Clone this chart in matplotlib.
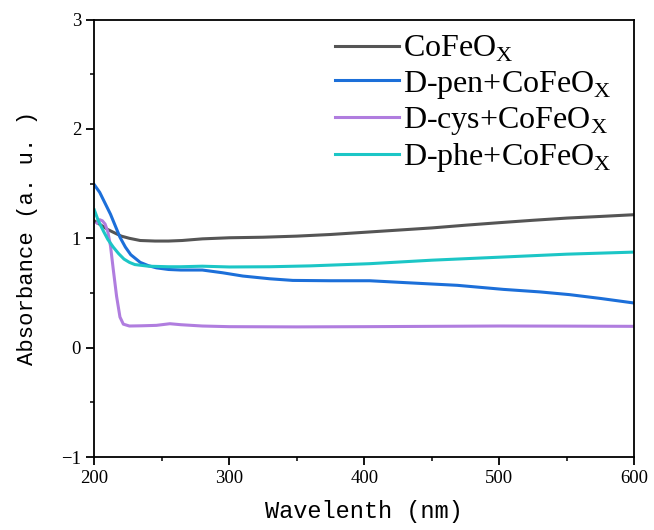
import matplotlib
matplotlib.use('Agg')
import matplotlib.pyplot as plt

# wavelength (nm) / absorbance
wl_co = [200, 205, 210, 215, 220, 226, 234, 245, 255, 265, 280, 300, 325, 350,
         375, 400, 425, 450, 475, 500, 525, 550, 575, 600]
abs_co = [1.16, 1.12, 1.08, 1.05, 1.02, 1.00, 0.98, 0.975, 0.975, 0.98, 0.995,
          1.005, 1.01, 1.02, 1.035, 1.055, 1.075, 1.095, 1.12, 1.143, 1.165,
          1.185, 1.20, 1.216]

wl_pen = [200, 204, 208, 212, 216, 219, 223, 227, 234, 240, 246, 255, 264, 280,
          295, 310, 330, 347, 375, 404, 430, 469, 503, 530, 552, 575, 600]
abs_pen = [1.49, 1.42, 1.32, 1.22, 1.10, 1.01, 0.92, 0.85, 0.78, 0.75, 0.73,
           0.715, 0.71, 0.71, 0.685, 0.655, 0.63, 0.615, 0.612, 0.612, 0.595,
           0.57, 0.533, 0.51, 0.485, 0.45, 0.408]

wl_cys = [202, 204, 206, 208, 210, 212, 214, 216.5, 219, 221.5, 226, 235, 246,
          256, 264, 280, 300, 350, 400, 450, 500, 550, 600]
abs_cys = [1.14, 1.17, 1.16, 1.13, 1.06, 0.93, 0.72, 0.47, 0.28, 0.215, 0.198,
           0.20, 0.204, 0.219, 0.21, 0.198, 0.192, 0.19, 0.192, 0.195, 0.198,
           0.197, 0.195]

wl_phe = [200, 203, 207, 210, 214, 218, 222, 226, 230, 240, 255, 264, 280, 300,
          330, 360, 404, 450, 503, 550, 600]
abs_phe = [1.26, 1.16, 1.06, 0.99, 0.92, 0.86, 0.81, 0.78, 0.76, 0.745, 0.74,
           0.74, 0.745, 0.738, 0.74, 0.748, 0.768, 0.80, 0.829, 0.855, 0.874]

labels = ['CoFeO$_\\mathregular{X}$', 'D-pen+CoFeO$_\\mathregular{X}$',
          'D-cys+CoFeO$_\\mathregular{X}$', 'D-phe+CoFeO$_\\mathregular{X}$']
colors = ['#555555', '#1c6fd9', '#b07ddf', '#1cc6c6']

fig = plt.figure(figsize=(6.54, 5.30), dpi=100)
ax = fig.add_axes([0.1442, 0.1377, 0.8257, 0.8253])

series = [(wl_co, abs_co), (wl_pen, abs_pen), (wl_cys, abs_cys), (wl_phe, abs_phe)]
for (x, y), lab, c in zip(series, labels, colors):
    ax.plot(x, y, color=c, lw=2.2, label=lab)

ax.set_xlim(200, 600)
ax.set_ylim(-1, 3)
ax.set_xticks([200, 300, 400, 500, 600])
ax.set_xticks([250, 350, 450, 550], minor=True)
ax.set_yticks([-1, 0, 1, 2, 3])
ax.set_yticks([-0.5, 0.5, 1.5, 2.5], minor=True)

for s in ax.spines.values():
    s.set_linewidth(1.3)
ax.tick_params(which='major', direction='out', length=6, width=1.3,
               labelsize=13.5, top=False, right=False)
ax.tick_params(which='minor', direction='out', length=3, width=1.1,
               top=False, right=False)
for t in ax.get_xticklabels() + ax.get_yticklabels():
    t.set_fontfamily('Liberation Serif')

ax.set_xlabel('Wavelenth (nm)', fontfamily='Liberation Mono', fontsize=17,
              labelpad=9)
ax.set_ylabel('Absorbance (a. u. )', fontfamily='Liberation Mono', fontsize=16,
              labelpad=17)

leg = ax.legend(loc='upper right', frameon=False,
                prop={'family': 'Liberation Serif', 'size': 23},
                handlelength=2.0, handletextpad=0.15, labelspacing=0.13,
                borderaxespad=0.05, bbox_to_anchor=(0.985, 1.0))

fig.savefig('out.png', dpi=100)
